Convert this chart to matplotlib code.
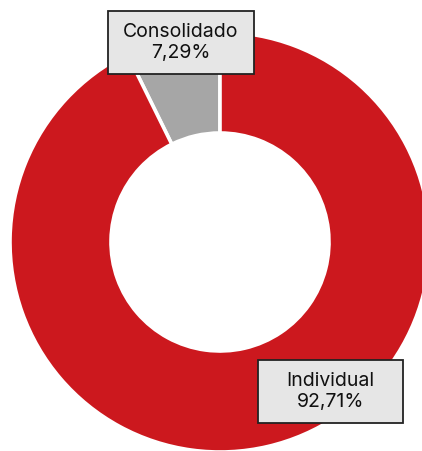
import matplotlib.pyplot as plt
from matplotlib.patches import Rectangle

labels = ['Consolidado', 'Individual']
shares = [7.29, 92.71]
colors = ['#a6a6a6', '#cc181e']
# label boxes in pixel coords (left, top, right, bottom)
label_boxes = [(108, 11, 254, 74), (258, 360, 403, 423)]

plt.rcParams['font.family'] = ['Inter', 'DejaVu Sans']

fig = plt.figure(figsize=(4.22, 4.51), dpi=100)
ax = fig.add_axes([0, 0, 1, 1])

ax.pie(shares, colors=colors, startangle=90, counterclock=True,
       center=(220, 451 - 242), radius=210, frame=True,
       wedgeprops=dict(width=101, edgecolor='white', linewidth=2.6))

for name, val, (l, t, r, b) in zip(labels, shares, label_boxes):
    ax.add_patch(Rectangle((l, 451 - b), r - l, b - t, facecolor='#e6e6e6',
                           edgecolor='#222222', linewidth=1.3, zorder=5))
    txt = f"{name}\n{val:.2f}%".replace('.', ',')
    ax.text((l + r) / 2, 451 - (t + b) / 2, txt, ha='center', va='center',
            fontsize=14, color='#111111', linespacing=1.2, zorder=6)

ax.set_xlim(0, 422)
ax.set_ylim(0, 451)
ax.set_aspect('equal')
ax.axis('off')

fig.savefig('out.png', dpi=100)
